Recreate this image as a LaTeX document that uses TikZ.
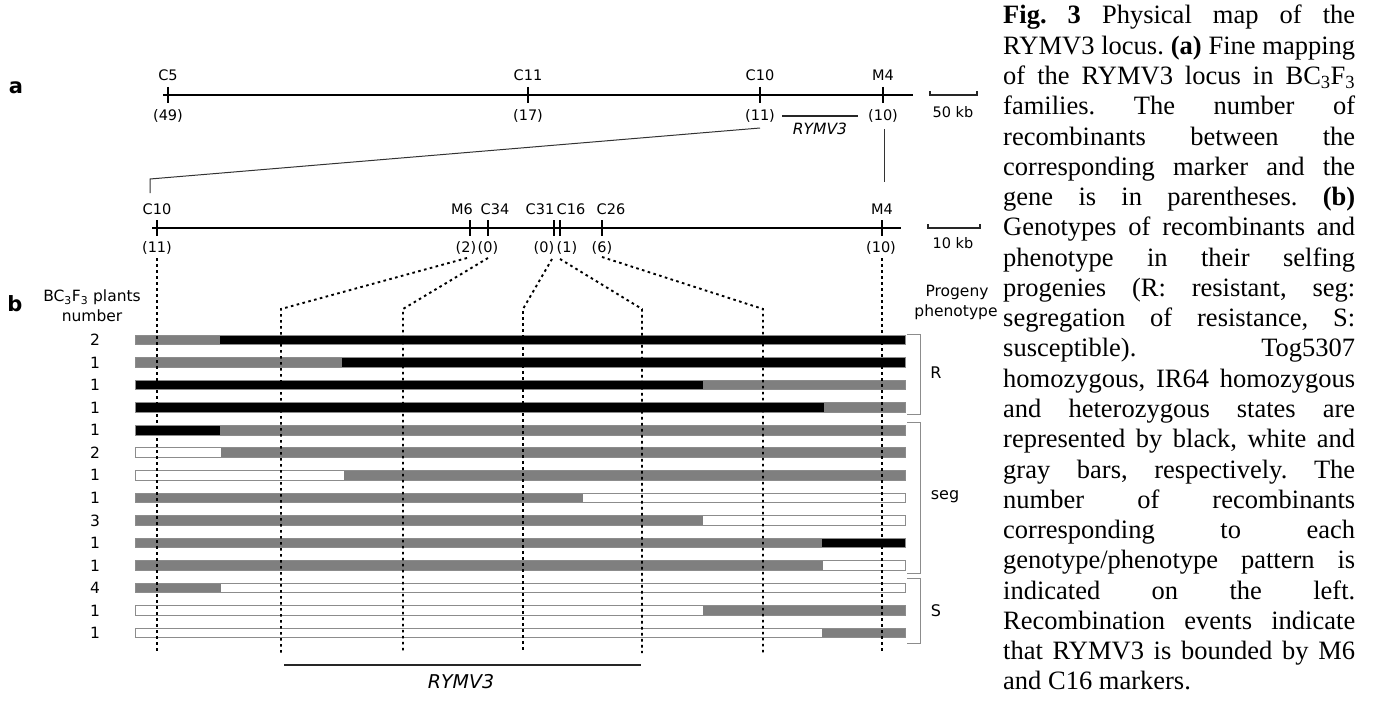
\documentclass[tikz,border=0pt]{standalone}
\usepackage{fontspec}
\setmainfont{Liberation Serif}
\newfontfamily\dvs{DejaVu Sans}
\frenchspacing
\definecolor{hetgray}{HTML}{7F7F7F}
\definecolor{edgegray}{HTML}{8C8C8C}
\definecolor{gB}{HTML}{000000}
\definecolor{gG}{HTML}{7F7F7F}
\definecolor{gW}{HTML}{FFFFFF}
\tikzset{
  lbl/.style={font=\dvs\fontsize{14.5bp}{17bp}\selectfont, inner sep=0pt},
  numlbl/.style={font=\dvs\fontsize{15.5bp}{18bp}\selectfont, inner sep=0pt},
  phlbl/.style={font=\dvs\fontsize{16bp}{19bp}\selectfont, inner sep=0pt},
  panel/.style={font=\dvs\bfseries\fontsize{21bp}{24bp}\selectfont, inner sep=0pt},
  genelbl/.style={font=\dvs\itshape\fontsize{16bp}{19bp}\selectfont, inner sep=0pt},
  mapline/.style={line width=2bp},
  tickmark/.style={line width=2bp},
  scalebar/.style={line width=1.5bp, draw=black!85},
  zoomline/.style={line width=1bp, draw=black!80},
  dotline/.style={line width=1.9bp, dash pattern=on 2.6bp off 3.4bp},
  barline/.style={draw=edgegray, line width=1bp},
  bracket/.style={draw=edgegray, line width=1bp},
  geneline/.style={line width=1.6bp, draw=black!85},
  capline/.style={anchor=base west, inner sep=0pt, font=\frenchspacing\fontsize{26.5bp}{30bp}\selectfont},
}
\begin{document}
\begin{tikzpicture}[x=1bp,y=-1bp]
\useasboundingbox (0,0) rectangle (1374,708);

% ---------- panel labels ----------
\node[panel] (pa) at (16,88) {a};
\node[panel] (pb) at (15,304) {b};

% ---------- map a ----------
\coordinate (aL) at (163,95);
\coordinate (aR) at (913,95);
\draw[mapline] (aL) -- (aR);
\foreach \x/\m/\v/\id in {168/C5/49/c5, 528/C11/17/c11, 760/C10/11/c10, 883/M4/10/m4}{
  \draw[tickmark] (\x,87) -- (\x,103);
  \node[lbl] (a\id) at (\x,75) {\m};
  \node[lbl] (av\id) at (\x,116) {(\v)};
}
\coordinate (ra1) at (782,116);
\coordinate (ra2) at (858,116);
\draw[geneline] (ra1) -- (ra2);
\node[genelbl, font=\dvs\itshape\fontsize{15.5bp}{18bp}\selectfont] (ral) at (820,129) {RYMV3};

% scale 50 kb
\coordinate (sa1) at (930,91);
\coordinate (sa2) at (930,95);
\coordinate (sa3) at (977,95);
\coordinate (sa4) at (977,91);
\draw[scalebar] (sa1) -- (sa2) -- (sa3) -- (sa4);
\node[lbl] (s50) at (953,112) {50 kb};

% zoom connectors
\coordinate (z1) at (760,128);
\coordinate (z2) at (150,179);
\coordinate (z3) at (150,193);
\draw[zoomline] (z1) -- (z2) -- (z3);
\coordinate (z4) at (884,129);
\coordinate (z5) at (884,182);
\draw[zoomline] (z4) -- (z5);

% ---------- map b ----------
\coordinate (bL) at (152,228);
\coordinate (bR) at (901,228);
\draw[mapline] (bL) -- (bR);
\foreach \x in {157,470,488,554,560,602,882}{
  \draw[tickmark] (\x,220) -- (\x,236);
}
\node[lbl] (bc10) at (157,209) {C10};
\node[lbl] (bm6)  at (462,209) {M6};
\node[lbl] (bc34) at (495,209) {C34};
\node[lbl] (bc31) at (540,209) {C31};
\node[lbl] (bc16) at (571,209) {C16};
\node[lbl] (bc26) at (611,209) {C26};
\node[lbl] (bm4)  at (882,209) {M4};
\node[lbl] (vc10) at (157,248) {(11)};
\node[lbl] (vm6)  at (466,248) {(2)};
\node[lbl] (vc34) at (488,248) {(0)};
\node[lbl] (vc31) at (544,248) {(0)};
\node[lbl] (vc16) at (567,248) {(1)};
\node[lbl] (vc26) at (602,248) {(6)};
\node[lbl] (vm4)  at (881,248) {(10)};

% scale 10 kb
\coordinate (sb1) at (928,224);
\coordinate (sb2) at (928,228);
\coordinate (sb3) at (980,228);
\coordinate (sb4) at (980,224);
\draw[scalebar] (sb1) -- (sb2) -- (sb3) -- (sb4);
\node[lbl] (s10) at (953,243) {10 kb};

% ---------- panel b headings ----------
\node[lbl, font=\dvs\fontsize{15.5bp}{18bp}\selectfont] (hd1) at (92,297) {BC\textsubscript{3}F\textsubscript{3} plants};
\node[lbl, font=\dvs\fontsize{15.5bp}{18bp}\selectfont] (hd2) at (92,316) {number};
\node[lbl, font=\dvs\fontsize{15.5bp}{18bp}\selectfont] (pp1) at (957,292) {Progeny};
\node[lbl, font=\dvs\fontsize{15.5bp}{18bp}\selectfont] (pp2) at (956,312) {phenotype};

% ---------- genotype bars ----------
\foreach \k/\n/\s/\lc/\rc in {0/2/220/gG/gB, 1/1/342/gG/gB, 2/1/703/gB/gG, 3/1/824/gB/gG,
  4/1/220/gB/gG, 5/2/221/gW/gG, 6/1/344/gW/gG, 7/1/583/gG/gW, 8/3/703/gG/gW,
  9/1/822/gG/gB, 10/1/823/gG/gW, 11/4/221/gG/gW, 12/1/703/gW/gG, 13/1/822/gW/gG}{
  \pgfmathsetmacro\yy{340+22.55*\k}
  \fill[\lc] (135,\yy-4.8) rectangle (\s,\yy+4.8);
  \fill[\rc] (\s,\yy-4.8) rectangle (905,\yy+4.8);
  \draw[barline] (135,\yy-4.8) rectangle (905,\yy+4.8);
  \node[numlbl] (n\k) at (95,\yy) {\n};
}

% ---------- dotted marker projections ----------
\coordinate (d0a) at (157,258);  \coordinate (d0c) at (157,651);
\coordinate (d1a) at (467,258);  \coordinate (d1b) at (281,309); \coordinate (d1c) at (281,653);
\coordinate (d2a) at (488,258);  \coordinate (d2b) at (403,309); \coordinate (d2c) at (403,653);
\coordinate (d3a) at (552,259);  \coordinate (d3b) at (523,309); \coordinate (d3c) at (523,653);
\coordinate (d4a) at (560,259);  \coordinate (d4b) at (642,309); \coordinate (d4c) at (642,653);
\coordinate (d5a) at (602,257);  \coordinate (d5b) at (763,309); \coordinate (d5c) at (763,653);
\coordinate (d6a) at (882,258);  \coordinate (d6c) at (882,652);
\draw[dotline] (d0a) -- (d0c);
\draw[dotline] (d1a) -- (d1b) -- (d1c);
\draw[dotline] (d2a) -- (d2b) -- (d2c);
\draw[dotline] (d3a) -- (d3b) -- (d3c);
\draw[dotline] (d4a) -- (d4b) -- (d4c);
\draw[dotline] (d5a) -- (d5b) -- (d5c);
\draw[dotline] (d6a) -- (d6c);

% ---------- brackets ----------
\draw[bracket] (907,334) -- (920,334) -- (920,414) -- (907,414);
\draw[bracket] (907,422) -- (920,422) -- (920,573) -- (907,573);
\draw[bracket] (907,578) -- (920,578) -- (920,643) -- (907,643);
\node[phlbl] (phR) at (936,373) {R};
\node[phlbl] (phseg) at (945,497) {seg};
\node[phlbl] (phS) at (936,611) {S};

% ---------- RYMV3 interval ----------
\coordinate (rb1) at (284,665);
\coordinate (rb2) at (641,665);
\draw[geneline] (rb1) -- (rb2);
\node[genelbl, font=\dvs\itshape\fontsize{19bp}{22bp}\selectfont] (rbl) at (461,682) {RYMV3};

% ---------- caption ----------
\node[capline] (c1)  at (1003,24.00)  {\makebox[352bp][s]{\textbf{Fig. 3} Physical map of the}};
\node[capline] (c2)  at (1003,54.27)  {\makebox[352bp][s]{RYMV3 locus. \textbf{(a)} Fine mapping}};
\node[capline] (c3)  at (1003,84.54)  {\makebox[352bp][s]{of the RYMV3 locus in BC\textsubscript{3}F\textsubscript{3}}};
\node[capline] (c4)  at (1003,114.81) {\makebox[352bp][s]{families. The number of}};
\node[capline] (c5)  at (1003,145.08) {\makebox[352bp][s]{recombinants between the}};
\node[capline] (c6)  at (1003,175.35) {\makebox[352bp][s]{corresponding marker and the}};
\node[capline] (c7)  at (1003,205.62) {\makebox[352bp][s]{gene is in parentheses. \textbf{(b)}}};
\node[capline] (c8)  at (1003,235.89) {\makebox[352bp][s]{Genotypes of recombinants and}};
\node[capline] (c9)  at (1003,266.16) {\makebox[352bp][s]{phenotype in their selfing}};
\node[capline] (c10) at (1003,296.43) {\makebox[352bp][s]{progenies (R: resistant, seg:}};
\node[capline] (c11) at (1003,326.70) {\makebox[352bp][s]{segregation of resistance, S:}};
\node[capline] (c12) at (1003,356.97) {\makebox[352bp][s]{susceptible). Tog5307}};
\node[capline] (c13) at (1003,387.24) {\makebox[352bp][s]{homozygous, IR64 homozygous}};
\node[capline] (c14) at (1003,417.51) {\makebox[352bp][s]{and heterozygous states are}};
\node[capline] (c15) at (1003,447.78) {\makebox[352bp][s]{represented by black, white and}};
\node[capline] (c16) at (1003,478.05) {\makebox[352bp][s]{gray bars, respectively. The}};
\node[capline] (c17) at (1003,508.32) {\makebox[352bp][s]{number of recombinants}};
\node[capline] (c18) at (1003,538.59) {\makebox[352bp][s]{corresponding to each}};
\node[capline] (c19) at (1003,568.86) {\makebox[352bp][s]{genotype/phenotype pattern is}};
\node[capline] (c20) at (1003,599.13) {\makebox[352bp][s]{indicated on the left.}};
\node[capline] (c21) at (1003,629.40) {\makebox[352bp][s]{Recombination events indicate}};
\node[capline] (c22) at (1003,659.67) {\makebox[352bp][s]{that RYMV3 is bounded by M6}};
\node[capline] (c23) at (1003,689.94) {and C16 markers.};
\end{tikzpicture}
\end{document}
